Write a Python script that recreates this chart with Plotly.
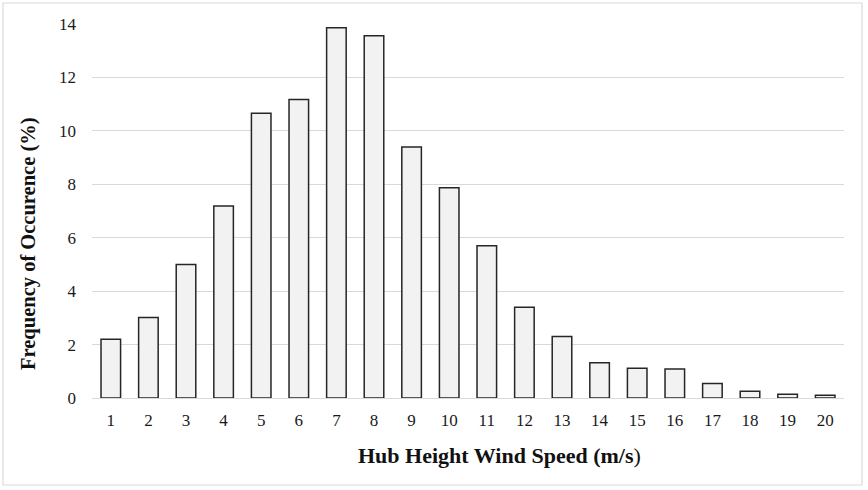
import plotly.graph_objects as go

speeds = [str(i) for i in range(1, 21)]
freq = [2.20, 3.01, 5.00, 7.19, 10.66, 11.17, 13.86, 13.56, 9.40, 7.87,
        5.70, 3.40, 2.30, 1.32, 1.11, 1.09, 0.54, 0.25, 0.14, 0.10]
y_ticks = [0, 2, 4, 6, 8, 10, 12, 14]

W, H = 868, 490
L, R, T, B = 92, 24, 24, 92
pw, ph = W - L - R, H - T - B

def px(x):
    return (x - L) / pw

def py(y):
    return (H - B - y) / ph

font = "Liberation Serif, Times New Roman, serif"

fig = go.Figure(go.Bar(
    x=speeds, y=freq,
    marker=dict(color="#f2f2f2", line=dict(color="#262626", width=1.5)),
    width=0.52,
))

fig.update_layout(
    width=W, height=H,
    margin=dict(l=L, r=R, t=T, b=B),
    paper_bgcolor="white", plot_bgcolor="white",
    font=dict(family=font, size=17, color="#1a1a1a"),
    showlegend=False,
    xaxis=dict(type="category", showgrid=False, showline=False, ticks="",
               tickfont=dict(size=17), ticklabelstandoff=10),
    yaxis=dict(range=[0, 14], tickvals=y_ticks, showgrid=True,
               gridcolor="#d9d9d9", gridwidth=1, zeroline=True,
               zerolinecolor="#d9d9d9", zerolinewidth=1, showline=False,
               ticks="", ticklabelstandoff=15, tickfont=dict(size=17)),
    annotations=[
        dict(text="<b>Hub Height Wind Speed (m/s</b>)", xref="paper", yref="paper",
             x=px(499), y=py(455), showarrow=False, font=dict(size=22, color="#111"),
             xanchor="center", yanchor="middle"),
        dict(text="<b>Frequency of Occurence (%)</b>", xref="paper", yref="paper",
             x=px(28), y=py(244), showarrow=False, textangle=-90,
             font=dict(size=20.5, color="#111"), xanchor="center", yanchor="middle"),
    ],
    shapes=[dict(type="rect", xref="paper", yref="paper",
                 x0=px(3), x1=px(862), y0=py(485), y1=py(3),
                 line=dict(color="#d9d9d9", width=1.2), layer="below")],
)

fig.write_html("out.html")
